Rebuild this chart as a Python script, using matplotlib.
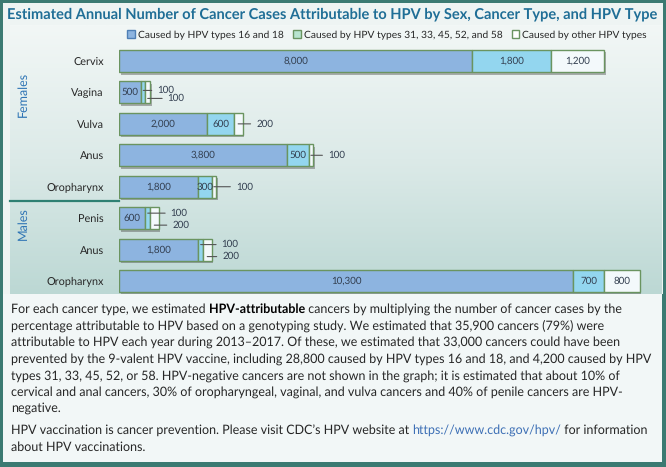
import numpy as np
import matplotlib
matplotlib.use("Agg")
import matplotlib.pyplot as plt
import matplotlib.patheffects as pe
from matplotlib.patches import Patch, Rectangle
from matplotlib.colors import LinearSegmentedColormap
from matplotlib.transforms import offset_copy

plt.rcParams['font.family'] = ['Lato', 'DejaVu Sans']
plt.rcParams['text.hinting'] = 'no_hinting'

# data
cancers = ["Cervix", "Vagina", "Vulva", "Anus", "Oropharynx", "Penis", "Anus", "Oropharynx"]
hpv_16_18 = [8000, 500, 2000, 3800, 1800, 600, 1800, 10300]
hpv_31_58 = [1800, 100, 600, 500, 300, 100, 100, 700]
hpv_other = [1200, 100, 200, 100, 100, 200, 200, 800]
series_names = ["Caused by HPV types 16 and 18",
                "Caused by HPV types 31, 33, 45, 52, and 58",
                "Caused by other HPV types"]
sex_groups = ["Females", "Males"]

body_lines = [
    "percentage attributable to HPV based on a genotyping study. We estimated that 35,900 cancers (79%) were",
    "attributable to HPV each year during 2013\u20132017. Of these, we estimated that 33,000 cancers could have been",
    "prevented by the 9-valent HPV vaccine, including 28,800 caused by HPV types 16 and 18, and 4,200 caused by HPV",
    "types 31, 33, 45, 52, or 58. HPV-negative cancers are not shown in the graph; it is estimated that about 10% of",
    "cervical and anal cancers, 30% of oropharyngeal, vaginal, and vulva cancers and 40% of penile cancers are HPV-",
    "negative.",
]

# style
W, H = 666, 467
colors = ["#8DB4E0", "#93D6EF", "#F3F9FB"]
edge = "#6A9460"
border = "#3B7A72"
title_col = "#1F6E96"
txt_col = "#262626"

# callout offsets (pixels) for small segments: (row, seg) -> (dx, dy)
callouts = {
    (1, 1): (14, -2), (1, 2): (20, 6),
    (2, 2): (18, 0), (3, 2): (17, 0), (4, 2): (22, 0),
    (5, 1): (23, -5), (5, 2): (18, 7),
    (6, 1): (21, -5), (6, 2): (15, 7),
}


def fx(px):
    return px / W


def fy(py):
    return 1 - py / H


fig = plt.figure(figsize=(W / 100, H / 100), dpi=100)
fig.patch.set_facecolor(border)

# background in pixel coordinates
bg = fig.add_axes([0, 0, 1, 1])
bg.set_xlim(0, W)
bg.set_ylim(H, 0)
bg.axis("off")
bg.add_patch(Rectangle((3, 3), 660, 291, facecolor="#EEF4F3", edgecolor="none"))
grad = LinearSegmentedColormap.from_list("g", ["#F2F7F6", "#DCEAE8", "#BCD8D4"])
bg.imshow(np.linspace(0, 1, 200).reshape(-1, 1), cmap=grad, aspect="auto",
          extent=(10, 662, 294, 25), zorder=1)
bg.add_patch(Rectangle((3, 294), 659, 168, facecolor="#F2F7F7", edgecolor="none", zorder=1))

bg.text(332, 14, "Estimated Annual Number of Cancer Cases Attributable to HPV by Sex, Cancer Type, and HPV Type",
        ha="center", va="center", fontsize=10.5, fontweight="bold", color=title_col, zorder=3)

# group labels and separator
bg.text(23, 94, sex_groups[0], rotation=90, ha="center", va="center", fontsize=9, color="#2E74B5", zorder=3)
bg.text(23, 224, sex_groups[1], rotation=90, ha="center", va="center", fontsize=9, color="#2E74B5", zorder=3)
bg.plot([10, 119], [201, 201], color="#2F8073", lw=1.6, zorder=3)

# bar chart
left_px, right_px, top_px, bot_px = 119, 662, 25, 294
ax = fig.add_axes([fx(left_px), fy(bot_px), fx(right_px - left_px), (bot_px - top_px) / H])
ax.patch.set_alpha(0)
scale = 353 / 8000  # px per case
ax.set_xlim(0, (right_px - left_px) / scale)
step = 31.43
ax.set_ylim((bot_px - 61) / step, -(61 - top_px) / step)
for s in ax.spines.values():
    s.set_visible(False)
ax.set_xticks([])
y = np.arange(len(cancers))
ax.set_yticks(y)
ax.set_yticklabels(cancers, fontsize=7.8, color=txt_col)
ax.tick_params(axis="y", length=0, pad=11)

shadow = [pe.SimplePatchShadow(offset=(1.2, -1.8), shadow_rgbFace="#555555", alpha=0.45), pe.Normal()]
series = [hpv_16_18, hpv_31_58, hpv_other]
lefts = np.zeros(len(cancers))
for k, vals in enumerate(series):
    vals = np.array(vals, dtype=float)
    bars = ax.barh(y, vals, left=lefts, height=0.7, color=colors[k], edgecolor=edge,
                   linewidth=1.0, label=series_names[k], zorder=2)
    for b in bars:
        b.set_path_effects(shadow)
    for i, v in enumerate(vals):
        cx = lefts[i] + v / 2
        lab = f"{int(v):,}"
        if (i, k) in callouts:
            dx, dy = callouts[(i, k)]
            tr = offset_copy(ax.transData, fig=fig, x=0, y=-dy, units="dots")
            ax.annotate(lab, xy=(cx, i), xycoords=tr, xytext=(dx, 0), textcoords="offset pixels",
                        ha="left", va="center", fontsize=7, color="#333F50", zorder=4,
                        arrowprops=dict(arrowstyle="-", color="#555555", lw=0.8,
                                        shrinkA=2, shrinkB=0, relpos=(0, 0.5)))
        else:
            ax.text(cx, i, lab, ha="center", va="center", fontsize=7, color="#333F50", zorder=4)
    lefts += vals

handles = [Patch(facecolor=colors[0], edgecolor="#4F7FB5"),
           Patch(facecolor="#B8E4CF", edgecolor=edge),
           Patch(facecolor="white", edgecolor=edge)]
fig.legend(handles, series_names, loc="center", bbox_to_anchor=(fx(387), fy(35)), ncol=3,
           frameon=False, fontsize=7.4, handlelength=0.75, handleheight=0.75,
           handletextpad=0.3, columnspacing=0.9, labelcolor=txt_col)

# text panel
fs = 9.0
x0 = 11
base = [309, 326, 342, 359, 376, 392, 408, 430, 447]
off = 4
t = bg.text(x0, base[0] + off, "For each cancer type, we estimated ", fontsize=fs, color=txt_col,
            va="baseline", zorder=3)
t = bg.annotate("HPV-attributable", xy=(1, 0), xycoords=t, va="bottom", ha="left", fontsize=fs,
                fontweight="bold", color="black", zorder=3)
bg.annotate(" cancers by multiplying the number of cancer cases by the", xy=(1, 0), xycoords=t,
            va="bottom", ha="left", fontsize=fs, color=txt_col, zorder=3)
for line, b in zip(body_lines, base[1:7]):
    bg.text(x0, b + off, line, fontsize=fs, color=txt_col, va="baseline", zorder=3)
t = bg.text(x0, base[7] + off, "HPV vaccination is cancer prevention. Please visit CDC\u2019s HPV website at ",
            fontsize=fs, color=txt_col, va="baseline", zorder=3)
t = bg.annotate("https://www.cdc.gov/hpv/", xy=(1, 0), xycoords=t, va="bottom", ha="left",
                fontsize=fs, color="#3D6FB5", zorder=3)
bg.annotate(" for information", xy=(1, 0), xycoords=t, va="bottom", ha="left", fontsize=fs,
            color=txt_col, zorder=3)
bg.text(x0, base[8] + off, "about HPV vaccinations.", fontsize=fs, color=txt_col, va="baseline", zorder=3)

fig.savefig("out.png", dpi=100, facecolor=fig.get_facecolor())
